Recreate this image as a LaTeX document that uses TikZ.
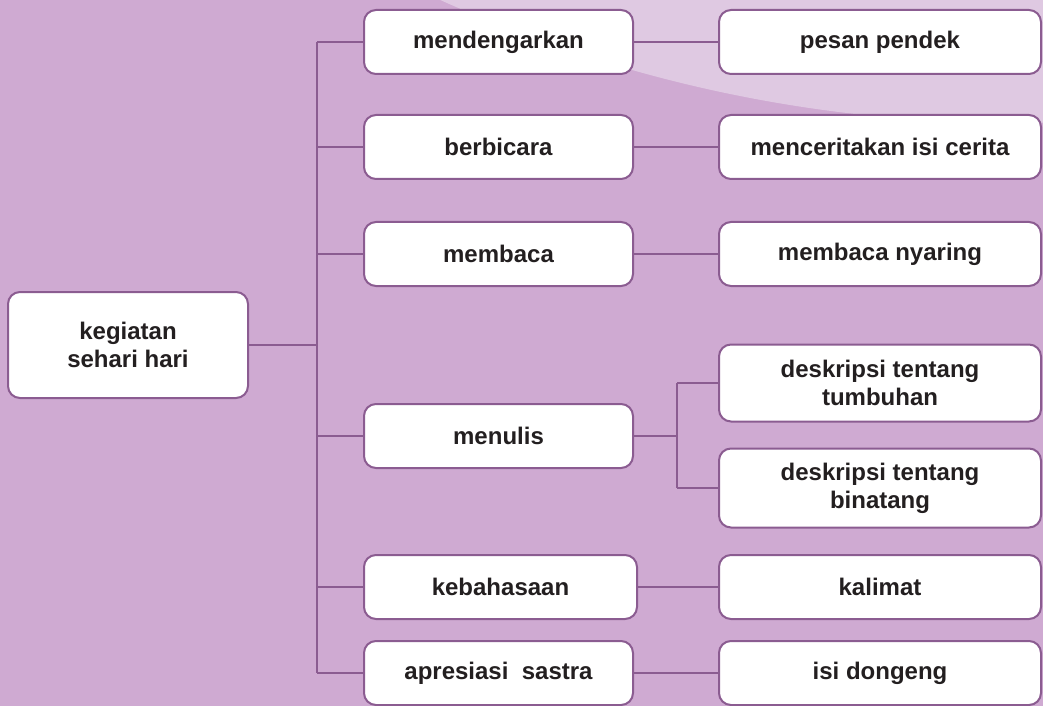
\documentclass[tikz,border=0pt]{standalone}
\usepackage{fontspec}
\setmainfont{Liberation Sans}
\usepackage{xcolor}
\definecolor{bgpurple}{HTML}{CFAAD2}
\definecolor{lightpurple}{HTML}{DFC9E2}
\definecolor{linepurple}{HTML}{8B5C91}
\definecolor{textdark}{HTML}{231F20}

\begin{document}
\begin{tikzpicture}[x=0.75pt,y=0.75pt,yscale=-1,
    box/.style={draw=linepurple, line width=1.5pt, fill=white, rounded corners=9pt, align=center, text=textdark, inner sep=0pt, font=\fontsize{18}{21}\selectfont\bfseries},
    midbox/.style={box, minimum width=201.75pt, minimum height=48pt},
    endbox/.style={box, minimum width=241.5pt, minimum height=48pt},
    link/.style={draw=linepurple, line width=1.5pt}]

    % background
    \fill [bgpurple] (0,0) rectangle (1043,706);
    \useasboundingbox (0,0) rectangle (1043,706);
    \begin{scope}
        \clip (0,0) rectangle (1043,706);
        \fill [lightpurple] (1015,-1277) circle (1400);
    \end{scope}

    \draw (128,345) node [box, minimum width=180pt, minimum height=79.5pt] (root) {kegiatan\\sehari hari};

    \draw (498.5,42)  node [midbox] (dengar) {mendengarkan};
    \draw (498.5,147) node [midbox] (bicara) {berbicara};
    \draw (498.5,254) node [midbox] (baca)   {membaca};
    \draw (498.5,436) node [midbox] (tulis)  {menulis};
    \draw (500.5,587) node [midbox, minimum width=204.75pt] (bahasa) {kebahasaan};
    \draw (498.5,673) node [midbox] (sastra) {apresiasi\ \ sastra};

    \draw (880,42)    node [endbox] (pesan)    {pesan pendek};
    \draw (880,147)   node [endbox] (cerita)   {menceritakan isi cerita};
    \draw (880,254)   node [endbox] (nyaring)  {membaca nyaring};
    \draw (880,383)   node [endbox, minimum height=57.75pt] (tumbuhan) {deskripsi tentang\\tumbuhan};
    \draw (880,488)   node [endbox, minimum height=59.25pt] (binatang) {deskripsi tentang\\binatang};
    \draw (880,587)   node [endbox] (kalimat)  {kalimat};
    \draw (880,673)   node [endbox] (dongeng)  {isi dongeng};

    \coordinate (ttop) at (317,42);
    \coordinate (tbot) at (317,673);
    \coordinate (tsub) at (677,436);

    % main trunk
    \draw [link] (ttop) -- (tbot);
    \draw [link] (root.east) -- (root.east -| ttop);
    \draw [link] (dengar.west) -- (dengar.west -| ttop);
    \draw [link] (bicara.west) -- (bicara.west -| ttop);
    \draw [link] (baca.west)   -- (baca.west -| ttop);
    \draw [link] (tulis.west)  -- (tulis.west -| ttop);
    \draw [link] (bahasa.west) -- (bahasa.west -| ttop);
    \draw [link] (sastra.west) -- (sastra.west -| ttop);

    % second level
    \draw [link] (dengar) -- (pesan);
    \draw [link] (bicara) -- (cerita);
    \draw [link] (baca)   -- (nyaring);
    \draw [link] (bahasa) -- (kalimat);
    \draw [link] (sastra) -- (dongeng);
    \draw [link] (tulis)  -- (tsub);
    \draw [link] (tumbuhan.west -| tsub) -- (binatang.west -| tsub);
    \draw [link] (tumbuhan.west) -- (tumbuhan.west -| tsub);
    \draw [link] (binatang.west) -- (binatang.west -| tsub);

\end{tikzpicture}
\end{document}
